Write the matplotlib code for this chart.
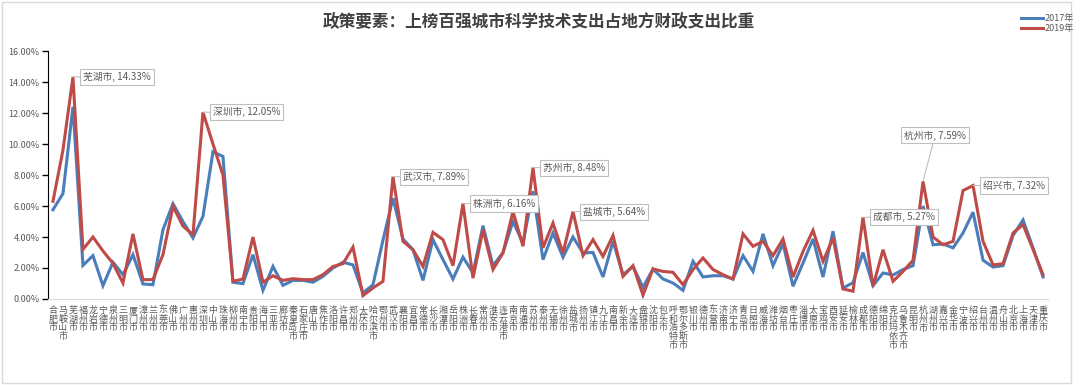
import matplotlib
matplotlib.use('Agg')
import matplotlib.pyplot as plt
from matplotlib.patches import Rectangle

plt.rcParams['font.family'] = ['Noto Sans CJK SC', 'DejaVu Sans']

title = '政策要素：上榜百强城市科学技术支出占地方财政支出比重'

cities = ['合肥市', '马鞍山市', '芜湖市', '福州市', '龙岩市', '宁德市', '泉州市', '三明市', '厦门市', '漳州市',
          '兰州市', '东莞市', '佛山市', '广州市', '惠州市', '深圳市', '中山市', '珠海市', '柳州市', '南宁市',
          '贵阳市', '海口市', '三亚市', '廊坊市', '秦皇岛市', '石家庄市', '唐山市', '焦作市', '洛阳市', '许昌市',
          '郑州市', '大庆市', '哈尔滨市', '鄂州市', '武汉市', '襄阳市', '宜昌市', '常德市', '长沙市', '湘潭市',
          '岳阳市', '株洲市', '长春市', '常州市', '淮安市', '连云港市', '南京市', '南通市', '苏州市', '泰州市',
          '无锡市', '徐州市', '盐城市', '扬州市', '镇江市', '九江市', '南昌市', '新余市', '大连市', '盘锦市',
          '沈阳市', '包头市', '呼和浩特市', '鄂尔多斯市', '银川市', '德州市', '东营市', '济南市', '济宁市', '青岛市',
          '日照市', '威海市', '潍坊市', '烟台市', '枣庄市', '淄博市', '太原市', '宝鸡市', '西安市', '延安市',
          '榆林市', '成都市', '德阳市', '绵阳市', '克拉玛依市', '乌鲁木齐市', '昆明市', '杭州市', '湖州市', '嘉兴市',
          '金华市', '宁波市', '绍兴市', '台州市', '温州市', '舟山市', '北京市', '上海市', '天津市', '重庆市']

# 科学技术支出占比 (%)
v2017 = [5.76, 6.8, 12.4, 2.17, 2.8, 0.86, 2.37, 1.57, 2.86, 0.97,
         0.92, 4.47, 6.15, 5.0, 3.94, 5.33, 9.5, 9.2, 1.08, 0.99,
         2.86, 0.56, 2.1, 0.88, 1.2, 1.2, 1.08, 1.46, 2.0, 2.37,
         2.2, 0.39, 0.92, 3.8, 6.5, 3.87, 3.18, 1.2, 3.83, 2.54,
         1.29, 2.7, 1.68, 4.73, 2.15, 3.0, 5.0, 3.6, 6.95, 2.54,
         4.26, 2.7, 4.0, 2.97, 3.0, 1.42, 3.72, 1.57, 2.1, 0.75,
         1.94, 1.29, 1.03, 0.56, 2.43, 1.42, 1.5, 1.5, 1.29, 2.8,
         1.78, 4.2, 2.15, 3.57, 0.82, 2.32, 3.87, 1.42, 4.37, 0.71,
         1.05, 3.0, 0.86, 1.68, 1.55, 1.9, 2.15, 6.0, 3.5, 3.55,
         3.3, 4.26, 5.6, 2.5, 2.06, 2.15, 4.1, 5.1, 3.3, 1.42]

v2019 = [6.3, 9.6, 14.33, 3.2, 4.0, 3.1, 2.3, 1.03, 4.2, 1.25,
         1.25, 2.86, 5.98, 4.7, 4.15, 12.05, 10.0, 8.0, 1.14, 1.29,
         4.0, 1.08, 1.5, 1.2, 1.31, 1.25, 1.25, 1.57, 2.1, 2.28,
         3.35, 0.22, 0.71, 1.14, 7.89, 3.72, 3.18, 2.1, 4.3, 3.83,
         2.15, 6.16, 1.35, 4.47, 1.9, 2.97, 5.65, 3.4, 8.48, 3.3,
         4.9, 2.97, 5.64, 2.8, 3.83, 2.75, 4.1, 1.46, 2.15, 0.25,
         1.94, 1.78, 1.72, 0.92, 1.9, 2.65, 1.9, 1.57, 1.29, 4.2,
         3.4, 3.72, 2.8, 3.87, 1.42, 3.07, 4.43, 2.43, 3.94, 0.65,
         0.5, 5.27, 0.82, 3.18, 1.14, 1.78, 2.5, 7.59, 4.0, 3.5,
         3.72, 7.0, 7.32, 3.72, 2.2, 2.28, 4.26, 4.8, 3.2, 1.57]

labelled = ['芜湖市', '深圳市', '武汉市', '株洲市', '苏州市', '盐城市', '成都市', '杭州市', '绍兴市']

fig = plt.figure(figsize=(10.8, 3.85), dpi=100)
fig.patches.append(Rectangle((0.002, 0.004), 0.99, 0.99, transform=fig.transFigure,
                             fill=False, edgecolor='#d9d9d9', lw=1))
ax = fig.add_axes([0.0444, 0.2234, 0.926, 0.644])

x = list(range(len(cities)))
ax.plot(x, v2017, color='#4a7ebb', lw=2.2, label='2017年', solid_joinstyle='miter')
ax.plot(x, v2019, color='#be4b48', lw=2.2, label='2019年', solid_joinstyle='miter')

ax.set_xlim(-0.5, len(cities) - 0.5)
ax.set_ylim(0, 16)
ax.set_yticks(range(0, 17, 2))
ax.set_yticklabels([f'{t:.2f}%' for t in range(0, 17, 2)], fontsize=6.5, color='#595959')
ax.set_xticks(x)
ax.set_xticklabels(['\n'.join(c) for c in cities], fontsize=6.5, color='#595959',
                   linespacing=0.95, va='top')
ax.tick_params(axis='x', length=0, pad=5)
ax.tick_params(axis='y', length=4, width=1, color='black', pad=2)

for s in ['top', 'right']:
    ax.spines[s].set_visible(False)
ax.spines['left'].set_color('black')
ax.spines['bottom'].set_color('#d9d9d9')

# Data labels
box = dict(boxstyle='square,pad=0.3', fc='white', ec='#bfbfbf', lw=0.8)
for c in labelled:
    i = cities.index(c)
    v = v2019[i]
    if c == '杭州市':
        off, ha = (12, 46), 'center'
    else:
        off, ha = (10, 0), 'left'
    ax.annotate(f'{c}, {v:.2f}%', xy=(i, v), xytext=off, textcoords='offset pixels',
                ha=ha, va='center', fontsize=7, color='#595959', bbox=box,
                arrowprops=dict(arrowstyle='-', color='#bfbfbf', lw=0.8, shrinkA=0, shrinkB=0))

fig.text(0.499, 0.943, title, ha='center', va='center', fontsize=12, fontweight='bold', color='#404040')
fig.legend(loc='upper right', bbox_to_anchor=(1.002, 0.985), frameon=False, fontsize=6.5,
           handlelength=2.4, handletextpad=0.2, labelspacing=0.15, labelcolor='#595959')

fig.savefig('out.png', dpi=100)
